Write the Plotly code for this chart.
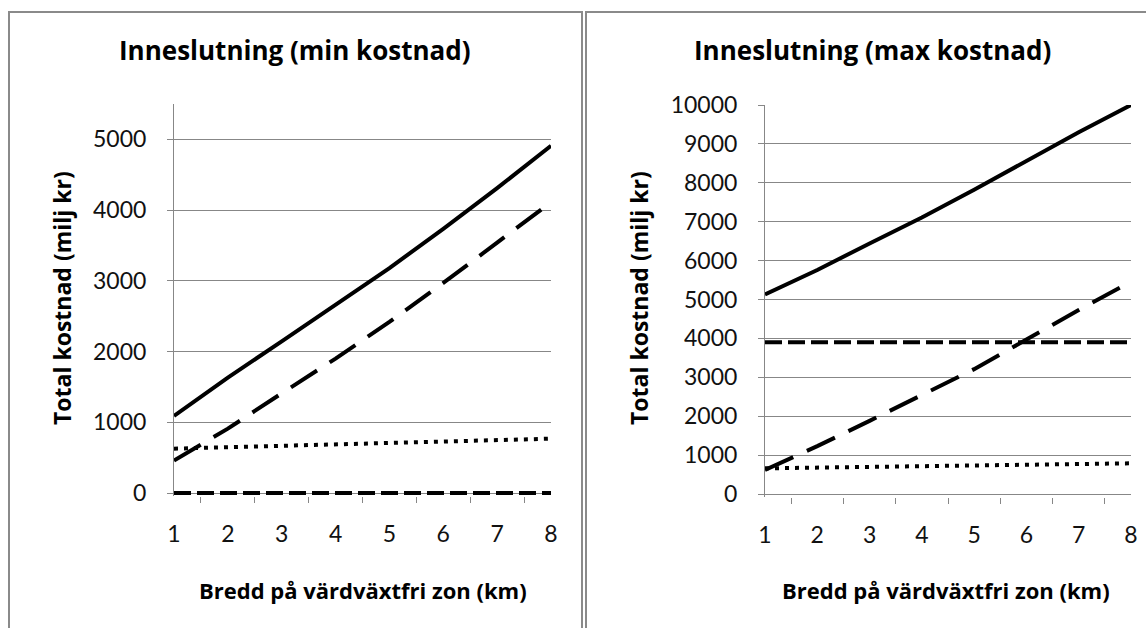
import plotly.graph_objects as go

# ---- data ----
km = ["1", "2", "3", "4", "5", "6", "7", "8"]

min_total = [1090, 1630, 2145, 2655, 3180, 3735, 4310, 4910]
min_longdash = [460, 910, 1410, 1900, 2420, 2970, 3540, 4110]
min_dotted = [627, 648, 667, 686, 706, 726, 746, 768]
min_flat = [0, 0, 0, 0, 0, 0, 0, 0]

max_total = [5130, 5760, 6440, 7110, 7820, 8560, 9300, 10000]
max_longdash = [620, 1230, 1880, 2540, 3210, 3970, 4730, 5460]
max_flat = [3900, 3900, 3900, 3900, 3900, 3900, 3900, 3900]
max_dotted = [660, 678, 695, 712, 729, 748, 768, 789]

titles = ["Inneslutning (min kostnad)", "Inneslutning (max kostnad)"]
x_title = "Bredd på värdväxtfri zon (km)"
y_title = "Total kostnad (milj kr)"

W, H = 1146, 628
FONT = "Lato"
BFONT = "Open Sans"
GRID = "#878787"


def px(x):
    return x / W


def py(y):
    return 1 - y / H


fig = go.Figure()

styles = {
    "total": dict(color="black", width=4, dash="solid"),
    "long": dict(color="black", width=4, dash="31px,15px"),
    "flat": dict(color="black", width=4, dash="17px,6px"),
    "dot": dict(color="black", width=4, dash="4px,6px"),
}

for xa, ya, series in [
    ("x", "y", [(min_flat, "flat"), (min_dotted, "dot"), (min_longdash, "long"), (min_total, "total")]),
    ("x2", "y2", [(max_flat, "flat"), (max_dotted, "dot"), (max_longdash, "long"), (max_total, "total")]),
]:
    for vals, st in series:
        fig.add_trace(go.Scatter(x=km, y=vals, mode="lines", line=styles[st],
                                 xaxis=xa, yaxis=ya, showlegend=False, hoverinfo="skip"))

xcommon = dict(type="category", showline=False, linecolor=GRID, linewidth=1,
               ticks="outside", tickson="boundaries", ticklen=6, tickcolor=GRID,
               showgrid=False, zeroline=False, ticklabelstandoff=22, automargin=False,
               tickfont=dict(family=FONT, size=23, color="#111"))
ycommon = dict(showline=True, linecolor=GRID, linewidth=1, ticks="outside", ticklen=6,
               tickcolor=GRID, showgrid=True, gridcolor=GRID, gridwidth=1,
               zeroline=True, zerolinecolor=GRID, zerolinewidth=1,
               dtick=1000, tick0=0, tickformat="d", ticklabelstandoff=16, automargin=False,
               tickfont=dict(family=FONT, size=23, color="#111"))

# plot areas extend 3px below the zero line so the thick line at 0 is not clipped
pad_px = 3
y1_scale = (493 - 104) / 5500
y2_scale = (494 - 105) / 10000

fig.update_layout(
    width=W, height=H,
    margin=dict(l=0, r=0, t=0, b=0, pad=0),
    paper_bgcolor="white", plot_bgcolor="white",
    font=dict(family=FONT, color="black"),
    xaxis=dict(domain=[px(174), px(551)], anchor="y", **xcommon),
    yaxis=dict(domain=[py(493 + pad_px), py(104)], anchor="x",
               range=[-pad_px / y1_scale, 5500], **ycommon),
    xaxis2=dict(domain=[px(765), px(1131)], anchor="y2", **xcommon),
    yaxis2=dict(domain=[py(494 + pad_px), py(105)], anchor="x2",
                range=[-pad_px / y2_scale, 10000], **ycommon),
)

# chart frames
fig.add_shape(type="rect", xref="paper", yref="paper",
              x0=px(9), x1=px(582), y0=py(660), y1=py(12),
              line=dict(color="#8a8a8a", width=2), layer="below")
fig.add_shape(type="rect", xref="paper", yref="paper",
              x0=px(586), x1=px(1170), y0=py(660), y1=py(12),
              line=dict(color="#8a8a8a", width=2), layer="below")

ann = []
for cx, t in [(295, titles[0]), (872, titles[1])]:
    ann.append(dict(text=f"<b>{t}</b>", x=px(cx), y=py(50), xref="paper", yref="paper",
                    showarrow=False, xanchor="center", yanchor="middle",
                    font=dict(family=BFONT, size=26, color="black")))
for cx in (363, 946):
    ann.append(dict(text=f"<b>{x_title}</b>", x=px(cx), y=py(590), xref="paper", yref="paper",
                    showarrow=False, xanchor="center", yanchor="middle",
                    font=dict(family=BFONT, size=22, color="black")))
for cx in (62, 639):
    ann.append(dict(text=f"<b>{y_title}</b>", x=px(cx), y=py(298), xref="paper", yref="paper",
                    showarrow=False, xanchor="center", yanchor="middle", textangle=-90,
                    font=dict(family=BFONT, size=23, color="black")))
fig.update_layout(annotations=ann)

fig.write_html("out.html", config={"displayModeBar": False},
               post_script="document.body.style.margin='0';document.body.style.overflow='hidden';")
